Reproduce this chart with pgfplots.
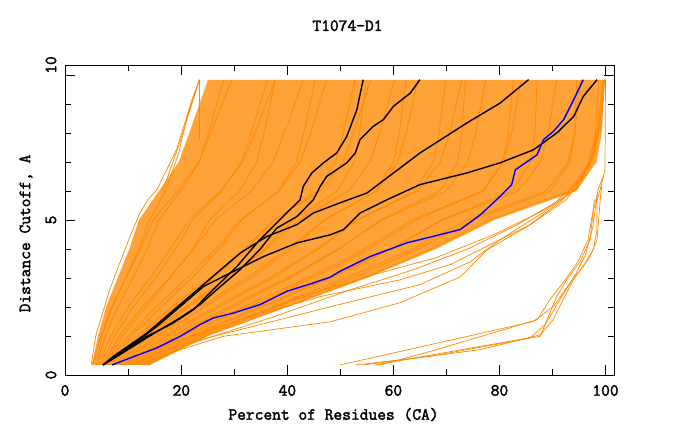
\documentclass[border=0pt]{standalone}
\usepackage{fontspec}
\setmonofont{Latin Modern Mono}[AutoFakeBold=2.2]
\usepackage{pgfplots}
\usepackage{pgfplotstable}
\pgfplotsset{compat=1.18}
\definecolor{gpor}{RGB}{255,136,0}
\definecolor{gpblue}{RGB}{0,0,255}
\newcommand\gpfont{\ttfamily\bfseries\fontsize{17}{20}\selectfont}

\pgfplotstableread{
y c1 c2 c3 c4 c5 c6 c7 c8 c9 c10 c11 c12 c13 c14 c15 c16 c17 c18 c19 c20 c21 c22 c23 c24 c25
0 3.3 3.9 4.3 4.7 5.2 5.6 6.0 6.5 6.9 7.4 7.8 8.2 8.7 9.1 9.5 10.0 10.4 10.8 11.3 11.7 12.1 12.6 13.0 13.5 13.8
1 4.8 5.7 6.7 7.4 8.3 8.9 10.0 10.6 11.7 12.3 13.3 13.9 14.9 15.6 16.6 17.3 18.2 18.9 19.9 20.6 21.6 22.2 23.2 23.9 24.7
2 6.8 8.0 10.0 10.9 12.6 13.3 15.2 16.1 18.2 19.0 20.8 21.4 23.4 24.3 26.3 27.1 28.9 29.7 31.7 32.7 34.5 35.3 37.1 38.2 39.5
3 9.5 10.9 14.1 15.1 17.7 17.9 21.1 22.0 25.3 26.1 28.8 29.1 32.3 33.1 36.5 37.2 39.9 40.5 43.8 44.8 47.7 48.3 51.2 52.4 54.3
4 12.3 13.6 18.0 18.9 22.4 22.1 26.5 27.2 31.9 32.3 36.0 35.7 40.1 40.8 45.5 45.9 49.6 49.8 54.5 55.4 59.4 59.6 63.5 64.7 67.1
5 14.7 15.7 21.4 22.1 26.4 25.3 31.1 31.4 37.5 37.5 42.2 41.1 46.8 47.1 53.2 53.2 57.9 57.5 63.6 64.3 69.3 69.0 74.0 75.0 78.0
6 19.3 19.9 27.4 27.6 33.2 31.0 38.5 38.3 46.3 45.6 51.5 49.4 56.9 56.7 64.6 64.0 70.0 68.8 76.7 77.0 83.5 82.4 88.8 89.6 93.3
7 23.3 23.4 31.6 31.3 37.3 34.2 42.4 41.7 50.5 49.1 55.6 52.6 60.8 60.0 68.8 67.5 74.0 72.1 80.8 80.6 87.7 85.9 92.9 93.3 97.1
8 25.5 25.1 33.9 33.2 39.4 35.6 44.4 43.1 52.5 50.6 57.4 53.6 62.4 61.1 70.6 68.6 75.5 72.9 82.3 81.7 89.2 86.7 94.2 94.2 98.1
9.83 29.5 28.0 37.7 36.2 43.0 37.7 47.4 45.2 55.7 52.7 60.2 54.9 64.6 62.4 72.9 69.9 77.4 73.6 84.1 82.6 90.8 87.1 95.3 94.6 98.7
}\bandtab

\begin{document}
\begin{tikzpicture}
\path[use as bounding box] (0,0) rectangle (680pt,440pt);
\begin{axis}[
  at={(65pt,65pt)}, anchor=south west,
  scale only axis, width=549pt, height=310pt,
  xmin=-1.94, xmax=101.6, ymin=-0.345, ymax=10.345,
  axis line style={line width=0.8pt},
  tick style={black, line width=0.8pt},
  tick align=inside, major tick length=10pt, minor tick length=6pt,
  xtick={-1.94,20,40,60,80,100}, xticklabels={0,20,40,60,80,100},
  minor xtick={10,30,50,70,90},
  ytick={-0.345,5,10}, yticklabels={0,5,{}},
  minor ytick={1,2,3,4,6,7,8,9},
  extra y ticks={10.345}, extra y tick labels={10},
  extra y tick style={major tick length=0pt},
  tick label style={font=\gpfont},
  xticklabel style={anchor=center, yshift=-15.5pt},
  yticklabel style={anchor=center, xshift=-14pt, rotate=90},
  clip=true,
]
% dense envelope of the model curves
\addplot[draw=none, fill=gpor, fill opacity=0.78] coordinates {
(3.1,0) (4.3,1) (5.8,2) (8.0,3) (10.2,4) (12,5) (15.8,6) (19.5,7) (21.5,8) (25,9.83)
(99.8,9.83) (99.3,8) (98.3,7) (94.5,6) (79,5) (68,4) (55,3) (40,2) (25,1) (14,0)
} -- cycle;
% model curves
\pgfplotsinvokeforeach{1,...,25}{
  \addplot[gpor, line width=0.7pt] table[x=c#1, y=y]{\bandtab};
}
% sparse curves on the left
\addplot[gpor, line width=0.7pt] coordinates {(3.0,0) (3.9,1.04) (6.5,2.60) (8.4,3.53) (10.3,4.42) (12.2,5.25) (13.7,5.70) (15.4,6.05) (19.1,7.43) (22.0,9.15) (23.4,9.84)};
\addplot[gpor, line width=0.7pt] coordinates {(4.0,0) (5.0,1) (7.0,2) (9.5,3) (12.0,4) (14.0,5) (17.0,6) (19.5,7.3) (21,8.5) (23.4,9.83)};
\addplot[gpor, line width=0.7pt] coordinates {(23.4,7.77) (23.4,9.84)};
\addplot[gpor, line width=0.7pt] coordinates {(16.5,6) (19.9,7.77) (23.4,9.84)};
% sparse curves below the dense band
\addplot[gpor, line width=0.7pt] coordinates {(11.6,0) (19.8,0.53) (27.9,0.99) (48.1,1.49) (61.3,2.15) (72.6,3.04) (77.7,3.98) (85.2,4.77) (92.0,5.70) (96.2,6.74) (98.6,8.11) (99.6,9.84)};
\addplot[gpor, line width=0.7pt] coordinates {(10.3,0) (16.0,0.46) (23.5,0.87) (34.8,1.39) (48.1,2.01) (65.0,2.77) (74.5,3.56) (80.1,4.32) (87.6,5.18) (94.3,6.04) (98.1,7.42) (99.6,9.15) (99.8,9.84)};
\addplot[gpor, line width=0.7pt] coordinates {(9.4,0) (17.8,0.70) (31.1,1.56) (46.2,2.36) (61.3,2.94) (70.7,3.46) (78.2,4.15) (85.8,4.84) (92.6,5.70) (97.1,6.91) (99.0,8.46) (99.8,9.84)};
\addplot[gpor, line width=0.7pt] coordinates {(8.8,0) (15,0.6) (27,1.3) (42,2.3) (56,3.1) (68,3.7) (79,4.5) (88,5.3) (94.8,6.1) (98,7.3) (99.5,9.83)};
\addplot[gpor, line width=0.7pt] coordinates {(12.5,0) (22,0.75) (38,1.7) (52,2.6) (64,3.3) (74,4.0) (83,4.8) (90.5,5.6) (96.5,6.6) (99.2,8.3) (99.8,9.83)};
% separate group at the lower right
\addplot[gpor, line width=0.7pt] coordinates {(49.9,0) (86.4,1.50) (90.2,2.02) (93.3,2.83) (95.8,3.40) (97.7,3.98) (98.4,4.67) (98.4,5.70) (99.0,6.05) (99.9,6.73) (100,9.84)};
\addplot[gpor, line width=0.7pt] coordinates {(54.3,0) (76.4,0.53) (87.7,1.04) (90.1,1.56) (93.9,2.94) (97.1,3.74) (98.4,4.32) (99.0,5.70) (99.3,6.22)};
\addplot[gpor, line width=0.7pt] coordinates {(52.8,0) (67.0,0.30) (87.7,0.99) (90.8,2.37) (92.7,2.94) (95.2,3.56) (97.1,4.32) (97.9,5.70)};
\addplot[gpor, line width=0.7pt] coordinates {(57.5,0) (67.0,0.47) (87.1,1.56) (89.5,2.25) (92.0,2.84) (94.8,3.56) (96.7,4.32) (97.5,5.18) (98.4,5.87)};
\addplot[gpor, line width=0.7pt] coordinates {(56.6,0) (70.7,0.46) (85.8,0.94) (88.6,1.39) (91.4,2.25) (94.3,3.11) (96.2,3.80) (97.5,4.67) (98.6,6.05) (99.7,6.56)};
% highlighted curves
\addplot[black, line width=1.4pt] coordinates {(5.2,0) (8.4,0.41) (13.5,0.99) (18.5,1.45) (22.3,1.91) (26.0,2.60) (30.5,3.40) (34.8,4.32) (38.6,5.01) (42.4,5.70) (43.0,6.16) (44.6,6.62) (46.8,6.97) (49.3,7.31) (51.2,7.88) (53.1,8.80) (54.3,9.84)};
\addplot[black, line width=1.4pt] coordinates {(5.2,0) (8.1,0.32) (13.5,0.94) (19.8,1.63) (23.5,2.08) (26.7,2.60) (31.1,3.29) (34.8,3.98) (38.0,4.72) (41.8,5.12) (44.9,5.70) (46.2,6.16) (47.4,6.50) (51.2,6.97) (52.8,7.31) (53.7,7.77) (56.2,8.23) (58.1,8.46) (60.0,8.92) (63.2,9.38) (65.0,9.84)};
\addplot[black, line width=1.4pt] coordinates {(5.2,0) (7.2,0.30) (13.5,1.10) (17.2,1.68) (21.6,2.37) (26.0,3.06) (31.1,3.86) (36.1,4.43) (41.8,4.84) (44.9,5.24) (49.9,5.59) (55.0,5.93) (60.0,6.62) (65.0,7.31) (73.8,8.34) (80.1,9.03) (85.5,9.84)};
\addplot[black, line width=1.4pt] coordinates {(5.3,0) (10.3,0.64) (15.4,1.33) (19.8,2.02) (24.2,2.71) (29.2,3.17) (35.5,3.74) (41.8,4.21) (48.1,4.49) (50.6,4.67) (53.7,5.24) (58.8,5.70) (65.0,6.22) (73.8,6.62) (80.1,6.97) (86.4,7.42) (90.8,8.0) (94.0,8.57) (95.8,9.26) (98.4,9.84)};
\addplot[gpblue, line width=1.4pt] coordinates {(6.9,0) (10.3,0.24) (15.4,0.59) (19.8,0.99) (23.5,1.39) (26.0,1.62) (29.8,1.79) (34.8,2.08) (39.9,2.54) (44.9,2.83) (48.1,3.03) (49.9,3.23) (55.6,3.74) (62.5,4.21) (72.6,4.67) (76.4,5.18) (80.1,5.81) (82.3,6.22) (83.0,6.73) (87.1,7.25) (88.3,7.77) (90.2,8.06) (92.1,8.46) (94.0,9.15) (95.8,9.84)};
\end{axis}
\node[font=\gpfont] at (347.5pt,414.3pt) {T1074-D1};
\node[font=\gpfont] at (333.5pt,25.5pt) {Percent of Residues (CA)};
\node[font=\gpfont, rotate=90] at (26pt,206.5pt) {Distance Cutoff, A};
\end{tikzpicture}
\end{document}
